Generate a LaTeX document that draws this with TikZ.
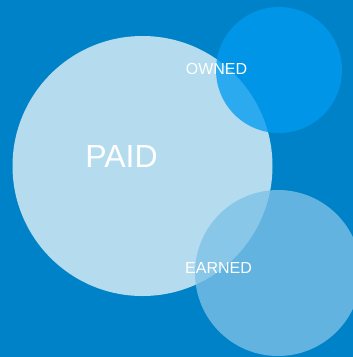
\documentclass[tikz,border=0pt]{standalone}
\usepackage{fontspec}
\setmainfont{Liberation Sans}

\definecolor{bgblue}{RGB}{0,130,200}
\definecolor{paidblue}{RGB}{180,220,238}
\definecolor{ownedblue}{RGB}{0,155,240}
\definecolor{earnedblue}{RGB}{126,194,231}

\tikzset{
  label/.style={white, inner sep=0pt, anchor=center}
}

\begin{document}
\begin{tikzpicture}[x=1pt, y=-1pt]

	\useasboundingbox (0,0) rectangle (353,357);
	\fill[bgblue] (0,0) rectangle (353,357);
	\clip (0,0) rectangle (353,357);

	%draw circles
    \foreach \cx/\cy/\r/\col/\op in { 142.5/166/130/paidblue/1, 279/70/63/ownedblue/0.76, 278/273/83/earnedblue/0.78}{
           \fill[\col, fill opacity=\op] (\cx,\cy) circle[radius=\r];
    }

	%labels
    \node[label] (paid) at (121.5,156) {\fontsize{32}{38}\selectfont PAID};
    \node[label] (owned) at (216.5,69) {\fontsize{16}{19}\selectfont OWNED};
    \node[label] (earned) at (218.5,268) {\fontsize{16}{19}\selectfont EARNED};

\end{tikzpicture}
\end{document}
